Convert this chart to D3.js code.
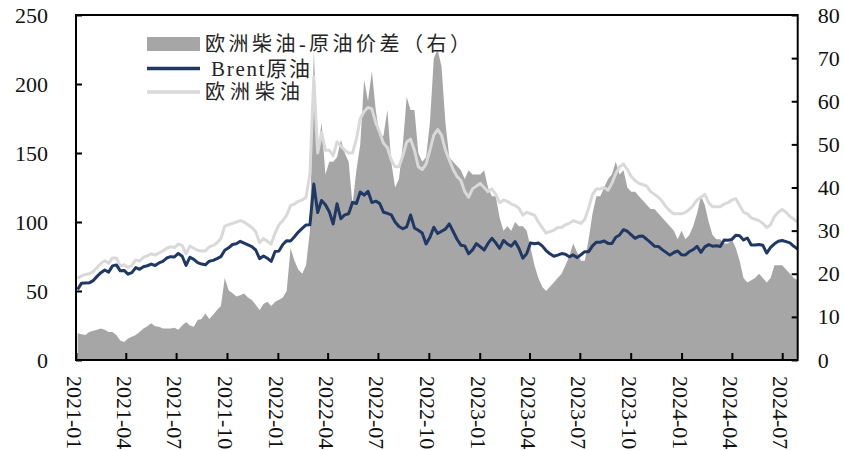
<!DOCTYPE html>
<html><head><meta charset="utf-8">
<script src="https://cdn.jsdelivr.net/npm/d3@7"></script>
<style>
html,body{margin:0;padding:0;background:#fff;}
svg{display:block;}
</style></head><body>
<svg id="chart" width="844" height="451"></svg>
<script>
// weekly observations, first one on this Monday, one per week after it
const startDate = "2021-01-04";

// Brent crude, USD/bbl (left axis)
const brent = [
51.1,55.7,55.8,55.9,57.5,60.6,63.3,65.2,63.7,68.2,68.9,64.6,64.9,62.2,63.3,67.0,65.7,67.6,68.3,69.5,
68.5,70.3,71.5,73.9,74.9,74.7,77.2,75.2,68.6,74.5,72.9,70.6,69.5,69.0,71.6,72.2,73.5,74.9,79.5,81.3,
83.7,84.3,86.0,84.7,83.4,82.1,79.7,73.4,75.4,73.7,71.5,78.6,
78.9,83.7,86.5,86.3,89.3,92.7,95.4,97.9,98.0,127.5,106.9,115.6,112.5,107.5,98.5,113.2,102.3,105.2,106.0,114.2,
113.4,121.7,119.5,122.3,114.1,115.1,113.5,107.1,106.3,105.2,100.0,96.7,95.1,96.5,105.1,95.7,94.0,92.1,84.1,88.9,
96.2,91.6,93.3,94.8,98.6,93.1,87.5,83.2,82.7,77.0,79.8,84.3,
82.1,79.7,84.5,88.2,84.9,80.9,86.6,84.1,82.5,85.8,80.8,73.8,77.1,84.9,84.2,84.8,82.7,79.3,77.0,75.2,
76.0,77.1,76.7,74.8,76.1,74.2,76.3,78.5,78.5,82.7,85.4,85.3,86.2,84.5,84.4,89.0,90.6,94.4,93.3,90.7,
88.2,89.6,89.8,87.5,85.0,82.5,82.3,80.0,78.0,76.0,77.9,79.0,
76.2,76.1,78.6,80.0,82.4,78.0,82.0,83.6,82.5,82.8,82.2,86.9,86.8,87.4,90.4,90.1,87.0,88.4,83.3,83.4,
83.7,83.1,77.5,81.6,84.2,86.0,86.6,85.8,84.9,82.4,80.5
];

// European diesel, USD/bbl (left axis)
const diesel = [
59,61,62,62.5,64,67,70,72,70,74,74,68,69,67,68.5,72.5,71.5,74.5,75.5,77,
76,77.5,79,81,82,81.5,84,83,77,82.5,81,79.5,79,79,82,83,85,88,97,98,
99,100,101,100,98,96,93,85,88,86,84,92,
98,101,105,112,113,115,116,118,135,205,150,165,152,152,148,158,155,152,150,150,
160,175,180,183,182,172,165,157,154,145,140,140,148,158,160,152,140,138,142,152,
163,167,163,152,145,138,133,130,122,118,124,126,
128,125,122,124,120,114,116,115,113,112,110,105,107,106,105,100,96,92,93,94,
96,96,98,99,101,100,99,102,110,120,124,124,125,123,128,135,140,142,138,133,
130,128,127,126,122,120,118,115,111,108,106,106,
106,107,109,112,116,118,120,114,111,111,111,113,114,116,117,112,107,106,103,102,
101,99,96,98,104,107,109,107,104,102,100
];

// European diesel minus crude spread, USD/bbl (right axis)
const spread = [
6.2,6,5.8,6.5,6.8,7,7.3,7,6.5,6.5,5.8,4.5,4.2,5,5.4,5.8,6.5,7.3,7.8,8.5,
7.8,7.7,7.3,7.3,7.3,7.5,7,8,8.8,8,7.7,9.3,9.5,10.8,9.5,10.5,11.6,12.5,19,16.2,
15.5,14.7,15,15.4,14.5,13.9,12.8,11.6,13,13.5,12.5,13.5,
14,14.5,16,26,23,21,20,22,30,72,48,55,43,46,46,47,51,48,46,36,
44,50,65,60,67,58,52,52,58,46,40,42,50,61,58,58,48,46,47,55,
70,72,68,55,47,46,45,44,42,44,43,43,
43,44,40,38,38,33,30,31,30,32,31,31,30,26,22,19,17,16,17,18,
19,20,22,24,27,25,23,23,28,34,38,38,40,42,43,46,43,44,40,39,
39,38,37,36,35,35,34,33,32,31,30,28,
30,28,29,31,34,38,36,32,29,28,28,27,27,28,26,23,19,18,18.5,19,
20,19,18,19,22,22,22,21,20,19,18.5
];

const xTickLabels = ["2021-01","2021-04","2021-07","2021-10","2022-01","2022-04","2022-07","2022-10",
  "2023-01","2023-04","2023-07","2023-10","2024-01","2024-04","2024-07"];
const xDomainLabels = ["2021-01-01","2024-07-29"];
const yLeftTicks = [0,50,100,150,200,250];
const yRightTicks = [0,10,20,30,40,50,60,70,80];
const legendLabels = ["欧洲柴油-原油价差（右）","Brent原油","欧洲柴油"];

const parseDay = d3.timeParse("%Y-%m-%d");
const parseMonth = d3.timeParse("%Y-%m");
const t0 = parseDay(startDate);
const dates = brent.map((_, i) => d3.timeDay.offset(t0, 7 * i));

const L = 76, R = 797.7, T = 15, B = 360;
const svg = d3.select("#chart");

const x = d3.scaleTime().domain(xDomainLabels.map(parseDay)).range([L, R]);
const yL = d3.scaleLinear().domain([0, 250]).range([B, T]);
const yR = d3.scaleLinear().domain([0, 80]).range([B, T]);

const C_AREA = "#a6a6a6", C_BRENT = "#1f3864", C_DIESEL = "#d9d9d9";
const FONT = "'Liberation Serif','Times New Roman','Noto Sans CJK SC',serif";

// spread area (right axis)
svg.append("path")
  .datum(dates.map((d, i) => [d, spread[i]]))
  .attr("fill", C_AREA)
  .attr("d", d3.area().x(d => x(d[0])).y0(yR(0)).y1(d => yR(d[1])));

// diesel line
svg.append("path")
  .datum(dates.map((d, i) => [d, diesel[i]]))
  .attr("fill", "none").attr("stroke", C_DIESEL).attr("stroke-width", 3)
  .attr("stroke-linejoin", "round")
  .attr("d", d3.line().x(d => x(d[0])).y(d => yL(d[1])));

// brent line
svg.append("path")
  .datum(dates.map((d, i) => [d, brent[i]]))
  .attr("fill", "none").attr("stroke", C_BRENT).attr("stroke-width", 3)
  .attr("stroke-linejoin", "round")
  .attr("d", d3.line().x(d => x(d[0])).y(d => yL(d[1])));

function styleAxis(g) {
  g.attr("font-family", FONT).attr("font-size", 22);
  g.select(".domain").remove();
  g.selectAll(".tick line").attr("stroke", "#000").attr("stroke-width", 2);
  g.selectAll(".tick text").attr("fill", "#111");
}

svg.append("g").attr("transform", `translate(${L},0)`)
  .call(d3.axisLeft(yL).tickValues(yLeftTicks).tickSizeInner(-6).tickSizeOuter(0).tickPadding(28))
  .call(styleAxis);

svg.append("g").attr("transform", `translate(${R},0)`)
  .call(d3.axisRight(yR).tickValues(yRightTicks).tickSizeInner(-6).tickSizeOuter(0).tickPadding(20))
  .call(styleAxis);

const gx = svg.append("g").attr("transform", `translate(0,${B})`)
  .call(d3.axisBottom(x).tickValues(xTickLabels.map(parseMonth))
    .tickFormat((d, i) => xTickLabels[i]).tickSizeInner(-7).tickSizeOuter(0))
  .call(styleAxis);
gx.selectAll(".tick text")
  .attr("transform", "rotate(90)")
  .attr("x", 16).attr("y", 0).attr("dy", "0.42em")
  .style("text-anchor", "start");

// frame
svg.append("rect").attr("x", L).attr("y", T).attr("width", R - L).attr("height", B - T)
  .attr("fill", "none").attr("stroke", "#000").attr("stroke-width", 2);

// legend
const lg = svg.append("g").attr("font-family", FONT).attr("fill", "#262626");
lg.append("rect").attr("x", 147).attr("y", 37).attr("width", 53).attr("height", 14).attr("fill", C_AREA);
lg.append("line").attr("x1", 147).attr("x2", 200).attr("y1", 68.5).attr("y2", 68.5)
  .attr("stroke", C_BRENT).attr("stroke-width", 3.5);
lg.append("line").attr("x1", 147).attr("x2", 200).attr("y1", 92).attr("y2", 92)
  .attr("stroke", C_DIESEL).attr("stroke-width", 3.5);
lg.append("text").attr("x", 205).attr("y", 44).attr("dominant-baseline", "central")
  .attr("font-size", 20).attr("textLength", 265).attr("lengthAdjust", "spacing").text(legendLabels[0]);
lg.append("text").attr("x", 211).attr("y", 69).attr("dominant-baseline", "central")
  .attr("font-size", 21).attr("textLength", 99).attr("lengthAdjust", "spacing").text(legendLabels[1]);
lg.append("text").attr("x", 205).attr("y", 92).attr("dominant-baseline", "central")
  .attr("font-size", 20).attr("textLength", 95).attr("lengthAdjust", "spacing").text(legendLabels[2]);
</script>
</body></html>
